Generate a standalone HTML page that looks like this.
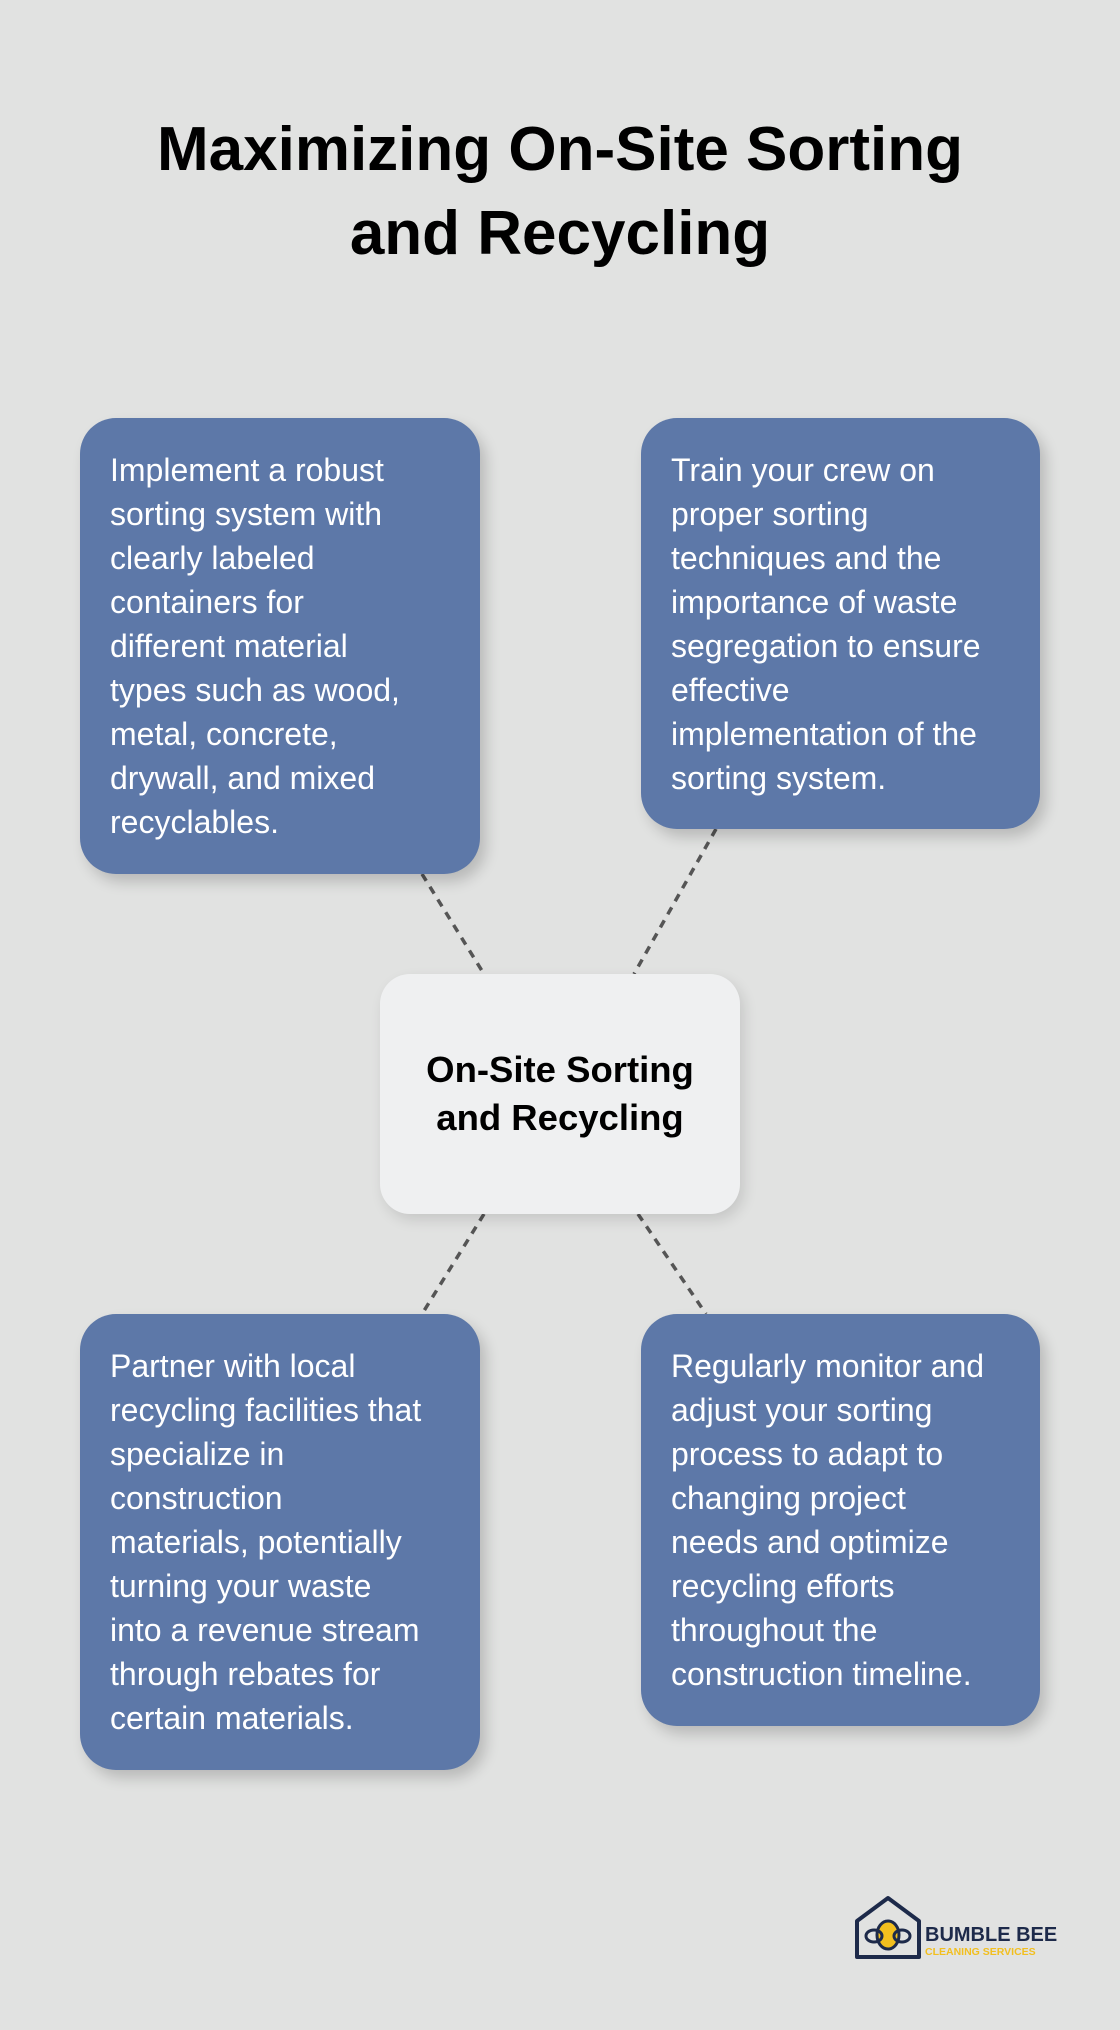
<!DOCTYPE html>
<html><head><meta charset="utf-8"><style>
html,body{margin:0;padding:0}
body{width:1120px;height:2030px;background:#e1e2e1;position:relative;overflow:hidden;font-family:"Liberation Sans","Noto Sans CJK JP",sans-serif}
h1{position:absolute;left:0;top:108px;width:1120px;margin:0;text-align:center;font-size:62px;line-height:84px;font-weight:bold;color:#000;white-space:nowrap}
.b{position:absolute;background:#5d78a8;border-radius:36px;color:#fff;font-size:32px;line-height:44px;padding:30px 0 0 30px;box-sizing:border-box;box-shadow:6px 8px 14px rgba(0,0,0,0.18);white-space:nowrap}
.c{position:absolute;left:380px;top:974px;width:360px;height:240px;background:#eff0f1;border-radius:30px;box-shadow:4px 6px 14px rgba(0,0,0,0.12);display:flex;align-items:center;justify-content:center;text-align:center;font-weight:bold;font-size:36.5px;line-height:48px;color:#000}
svg{position:absolute;left:0;top:0}
</style></head><body>
<h1>Maximizing On-Site Sorting<br>and Recycling</h1>
<svg width="1120" height="2030"><g stroke="#555" stroke-width="3.5" stroke-dasharray="8,7">
<line x1="422" y1="874" x2="484" y2="974"/>
<line x1="716" y1="829" x2="634" y2="974"/>
<line x1="484" y1="1214" x2="422" y2="1314"/>
<line x1="638" y1="1214" x2="706" y2="1314"/>
</g></svg>
<div class="b" style="left:80px;top:418px;width:400px;height:456px">Implement a robust<br>sorting system with<br>clearly labeled<br>containers for<br>different material<br>types such as wood,<br>metal, concrete,<br>drywall, and mixed<br>recyclables.</div>
<div class="b" style="left:641px;top:418px;width:399px;height:411px">Train your crew on<br>proper sorting<br>techniques and the<br>importance of waste<br>segregation to ensure<br>effective<br>implementation of the<br>sorting system.</div>
<div class="b" style="left:80px;top:1314px;width:400px;height:456px">Partner with local<br>recycling facilities that<br>specialize in<br>construction<br>materials, potentially<br>turning your waste<br>into a revenue stream<br>through rebates for<br>certain materials.</div>
<div class="b" style="left:641px;top:1314px;width:399px;height:412px">Regularly monitor and<br>adjust your sorting<br>process to adapt to<br>changing project<br>needs and optimize<br>recycling efforts<br>throughout the<br>construction timeline.</div>
<div class="c">On-Site Sorting<br>and Recycling</div>
<svg width="1120" height="2030" style="pointer-events:none">
<path d="M857 1921 L888 1898 L919 1921 L919 1957 L857 1957 Z" fill="none" stroke="#1d2a4a" stroke-width="4" stroke-linejoin="round"/>
<ellipse cx="888" cy="1935" rx="11" ry="14" fill="#f2bf1f" stroke="#1d2a4a" stroke-width="3"/>
<ellipse cx="874" cy="1936" rx="8" ry="6" fill="none" stroke="#1d2a4a" stroke-width="3"/>
<ellipse cx="902" cy="1936" rx="8" ry="6" fill="none" stroke="#1d2a4a" stroke-width="3"/>
<text x="925" y="1941" font-family="Liberation Sans" font-weight="bold" font-size="20" fill="#1d2a4a">BUMBLE BEE</text>
<text x="925" y="1955" font-family="Liberation Sans" font-weight="bold" font-size="10.5" fill="#f2bf1f">CLEANING SERVICES</text>
</svg>
</body></html>
